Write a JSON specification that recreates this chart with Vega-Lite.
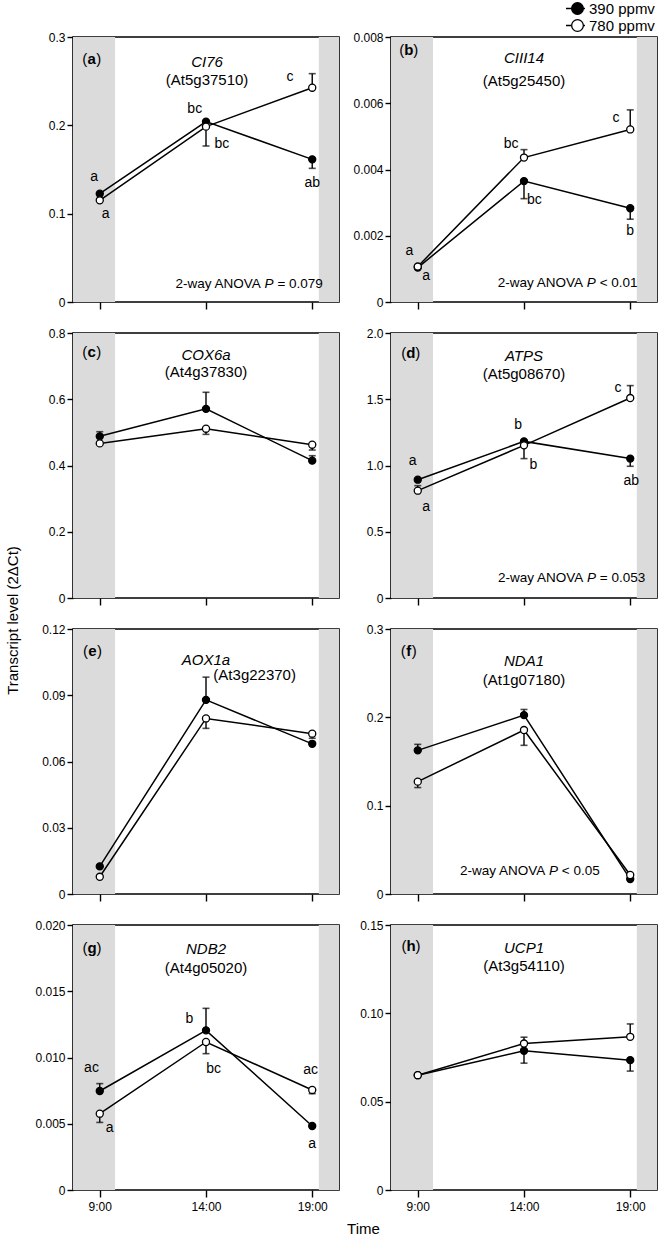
{
"$schema": "https://vega.github.io/schema/vega-lite/v6.json",
"padding": {"left": 4, "top": 0, "right": 0, "bottom": 2},
"background": "white",
"config": {
 "font": "Liberation Sans",
 "view": {"stroke": "black", "strokeWidth": 1.6},
 "axis": {"domain": false, "grid": false, "tickColor": "black", "tickWidth": 1.4, "tickSize": 6, "labelColor": "black", "labelFontSize": 12, "labelPadding": 2, "labelFont": "Liberation Sans", "titleFont": "Liberation Sans", "titleColor": "black", "titleFontWeight": "normal", "titleFontSize": 15},
 "axisX": {"tickSize": 7, "labelPadding": 4},
 "text": {"font": "Liberation Sans"}
},
"datasets": {
 "bands": [{"t": 7.74, "t2": 9.72, "v": 0}, {"t": 19.31, "t2": 20.26, "v": 0}],
 "pts": [
  {"p":"a","co2":"390 ppmv","t":9,"v":0.1226},
  {"p":"a","co2":"390 ppmv","t":14,"v":0.2042},
  {"p":"a","co2":"390 ppmv","t":19,"v":0.1615,"e":0.1513},
  {"p":"a","co2":"780 ppmv","t":9,"v":0.1151},
  {"p":"a","co2":"780 ppmv","t":14,"v":0.1985,"e":0.1766},
  {"p":"a","co2":"780 ppmv","t":19,"v":0.2426,"e":0.2585},
  {"p":"b","co2":"390 ppmv","t":9,"v":0.00104},
  {"p":"b","co2":"390 ppmv","t":14,"v":0.00365,"e":0.00312},
  {"p":"b","co2":"390 ppmv","t":19,"v":0.00283,"e":0.0025},
  {"p":"b","co2":"780 ppmv","t":9,"v":0.00107},
  {"p":"b","co2":"780 ppmv","t":14,"v":0.00436,"e":0.0046},
  {"p":"b","co2":"780 ppmv","t":19,"v":0.00521,"e":0.0058},
  {"p":"c","co2":"390 ppmv","t":9,"v":0.488,"e":0.502},
  {"p":"c","co2":"390 ppmv","t":14,"v":0.571,"e":0.621},
  {"p":"c","co2":"390 ppmv","t":19,"v":0.4146,"e":0.4296},
  {"p":"c","co2":"780 ppmv","t":9,"v":0.4667},
  {"p":"c","co2":"780 ppmv","t":14,"v":0.511,"e":0.494},
  {"p":"c","co2":"780 ppmv","t":19,"v":0.4627,"e":0.4467},
  {"p":"d","co2":"390 ppmv","t":9,"v":0.893},
  {"p":"d","co2":"390 ppmv","t":14,"v":1.182},
  {"p":"d","co2":"390 ppmv","t":19,"v":1.052,"e":0.994},
  {"p":"d","co2":"780 ppmv","t":9,"v":0.81,"e":0.848},
  {"p":"d","co2":"780 ppmv","t":14,"v":1.152,"e":1.052},
  {"p":"d","co2":"780 ppmv","t":19,"v":1.509,"e":1.603},
  {"p":"e","co2":"390 ppmv","t":9,"v":0.0125},
  {"p":"e","co2":"390 ppmv","t":14,"v":0.0879,"e":0.0982},
  {"p":"e","co2":"390 ppmv","t":19,"v":0.068},
  {"p":"e","co2":"780 ppmv","t":9,"v":0.0078},
  {"p":"e","co2":"780 ppmv","t":14,"v":0.0795,"e":0.075},
  {"p":"e","co2":"780 ppmv","t":19,"v":0.0726,"e":0.0705},
  {"p":"f","co2":"390 ppmv","t":9,"v":0.1626,"e":0.1694},
  {"p":"f","co2":"390 ppmv","t":14,"v":0.2025,"e":0.2089},
  {"p":"f","co2":"390 ppmv","t":19,"v":0.0169},
  {"p":"f","co2":"780 ppmv","t":9,"v":0.1272,"e":0.1205},
  {"p":"f","co2":"780 ppmv","t":14,"v":0.1856,"e":0.1683},
  {"p":"f","co2":"780 ppmv","t":19,"v":0.0215},
  {"p":"g","co2":"390 ppmv","t":9,"v":0.00747,"e":0.00803},
  {"p":"g","co2":"390 ppmv","t":14,"v":0.01205,"e":0.01371},
  {"p":"g","co2":"390 ppmv","t":19,"v":0.00483},
  {"p":"g","co2":"780 ppmv","t":9,"v":0.00576,"e":0.0051},
  {"p":"g","co2":"780 ppmv","t":14,"v":0.01117,"e":0.01029},
  {"p":"g","co2":"780 ppmv","t":19,"v":0.00755,"e":0.00727},
  {"p":"h","co2":"390 ppmv","t":9,"v":0.065},
  {"p":"h","co2":"390 ppmv","t":14,"v":0.0788,"e":0.0718},
  {"p":"h","co2":"390 ppmv","t":19,"v":0.0735,"e":0.0673},
  {"p":"h","co2":"780 ppmv","t":9,"v":0.065},
  {"p":"h","co2":"780 ppmv","t":14,"v":0.0829,"e":0.0865},
  {"p":"h","co2":"780 ppmv","t":19,"v":0.0867,"e":0.094}
 ],
 "ann": [
  {"p":"a","k":"lab","t":8.62,"v":0.2747,"s":"a"},
  {"p":"a","k":"gene","t":14.05,"v":0.2717,"s":"CI76"},
  {"p":"a","k":"locus","t":14.05,"v":0.251,"s":"(At5g37510)"},
  {"p":"a","k":"anova","t":16.97,"v":0.0208,"s":"= 0.079"},
  {"p":"a","k":"sig","t":8.73,"v":0.142,"s":"a"},
  {"p":"a","k":"sig","t":9.28,"v":0.1,"s":"a"},
  {"p":"a","k":"sig","t":13.47,"v":0.219,"s":"bc"},
  {"p":"a","k":"sig","t":14.75,"v":0.1785,"s":"bc"},
  {"p":"a","k":"sig","t":17.95,"v":0.2547,"s":"c"},
  {"p":"a","k":"sig","t":19.0,"v":0.135,"s":"ab"},
  {"p":"b","k":"lab","t":8.58,"v":0.0076,"s":"b"},
  {"p":"b","k":"gene","t":14.0,"v":0.00736,"s":"CIII14"},
  {"p":"b","k":"locus","t":14.0,"v":0.00667,"s":"(At5g25450)"},
  {"p":"b","k":"anova","t":17.17,"v":0.00056,"s":"< 0.01"},
  {"p":"b","k":"sig","t":8.61,"v":0.00154,"s":"a"},
  {"p":"b","k":"sig","t":9.39,"v":0.00078,"s":"a"},
  {"p":"b","k":"sig","t":13.39,"v":0.00476,"s":"bc"},
  {"p":"b","k":"sig","t":14.49,"v":0.00308,"s":"bc"},
  {"p":"b","k":"sig","t":18.33,"v":0.00556,"s":"c"},
  {"p":"b","k":"sig","t":19.0,"v":0.00214,"s":"b"},
  {"p":"c","k":"lab","t":8.62,"v":0.742,"s":"c"},
  {"p":"c","k":"gene","t":14.0,"v":0.735,"s":"COX6a"},
  {"p":"c","k":"locus","t":14.0,"v":0.682,"s":"(At4g37830)"},
  {"p":"d","k":"lab","t":8.67,"v":1.849,"s":"d"},
  {"p":"d","k":"gene","t":14.0,"v":1.829,"s":"ATPS"},
  {"p":"d","k":"locus","t":14.0,"v":1.693,"s":"(At5g08670)"},
  {"p":"d","k":"anova","t":17.18,"v":0.151,"s":"= 0.053"},
  {"p":"d","k":"sig","t":8.76,"v":1.036,"s":"a"},
  {"p":"d","k":"sig","t":9.39,"v":0.687,"s":"a"},
  {"p":"d","k":"sig","t":13.73,"v":1.308,"s":"b"},
  {"p":"d","k":"sig","t":14.44,"v":1.006,"s":"b"},
  {"p":"d","k":"sig","t":18.42,"v":1.585,"s":"c"},
  {"p":"d","k":"sig","t":19.05,"v":0.88,"s":"ab"},
  {"p":"e","k":"lab","t":8.66,"v":0.1099,"s":"e"},
  {"p":"e","k":"gene","t":14.0,"v":0.1058,"s":"AOX1a"},
  {"p":"e","k":"locus","t":16.29,"v":0.0990,"s":"(At3g22370)"},
  {"p":"f","k":"lab","t":8.58,"v":0.2748,"s":"f"},
  {"p":"f","k":"gene","t":14.0,"v":0.2635,"s":"NDA1"},
  {"p":"f","k":"locus","t":14.0,"v":0.2428,"s":"(At1g07180)"},
  {"p":"f","k":"anova","t":15.39,"v":0.0263,"s":"< 0.05"},
  {"p":"g","k":"lab","t":8.64,"v":0.01829,"s":"g"},
  {"p":"g","k":"gene","t":14.0,"v":0.01816,"s":"NDB2"},
  {"p":"g","k":"locus","t":14.0,"v":0.01678,"s":"(At4g05020)"},
  {"p":"g","k":"sig","t":8.61,"v":0.00923,"s":"ac"},
  {"p":"g","k":"sig","t":9.47,"v":0.0047,"s":"a"},
  {"p":"g","k":"sig","t":13.22,"v":0.01288,"s":"b"},
  {"p":"g","k":"sig","t":14.36,"v":0.00916,"s":"bc"},
  {"p":"g","k":"sig","t":18.92,"v":0.00903,"s":"ac"},
  {"p":"g","k":"sig","t":19.0,"v":0.00345,"s":"a"},
  {"p":"h","k":"lab","t":8.68,"v":0.1381,"s":"h"},
  {"p":"h","k":"gene","t":14.0,"v":0.1372,"s":"UCP1"},
  {"p":"h","k":"locus","t":14.0,"v":0.1268,"s":"(At3g54110)"}
 ]
},
"columns": 2,
"bounds": "flush",
"spacing": {"row": 31, "column": 52},
"resolve": {"scale": {"fill": "independent"}, "legend": {"fill": "independent"}},
"concat": [
 {
  "width": 266, "height": 265,
  "data": {"name": "pts"},
  "transform": [{"filter": "datum.p == 'a'"}],
  "encoding": {
   "x": {"field": "t", "type": "quantitative", "scale": {"domain": [7.74, 20.26], "nice": false, "zero": false}, "axis": {"values": [9, 14, 19], "labels": false, "title": null}},
   "y": {"field": "v", "type": "quantitative", "scale": {"domain": [0, 0.3], "nice": false}, "axis": {"values": [0, 0.1, 0.2, 0.3], "labelExpr": "datum.value == 0 ? '0' : format(datum.value, '.1f')", "title": null}}
  },
  "layer": [
   {"data": {"name": "bands"}, "mark": {"type": "rect", "fill": "#dbdbdb"}, "encoding": {"x2": {"field": "t2"}, "y2": {"value": 0}}},
   {"mark": {"type": "line", "color": "black", "strokeWidth": 1.5}, "encoding": {"detail": {"field": "co2"}}},
   {"transform": [{"filter": "isValid(datum.e)"}], "mark": {"type": "rule", "color": "black", "strokeWidth": 1.4}, "encoding": {"y2": {"field": "e"}}},
   {"transform": [{"filter": "isValid(datum.e)"}], "mark": {"type": "tick", "orient": "horizontal", "color": "black", "size": 7, "thickness": 1.6}, "encoding": {"y": {"field": "e", "type": "quantitative", "scale": {"domain": [0, 0.3], "nice": false}, "axis": {"values": [0, 0.1, 0.2, 0.3], "labelExpr": "datum.value == 0 ? '0' : format(datum.value, '.1f')", "title": null}}}},
   {"mark": {"type": "point", "shape": "circle", "filled": true, "stroke": "black", "strokeWidth": 1.3, "size": 50, "opacity": 1}, "encoding": {"fill": {"field": "co2", "type": "nominal", "scale": {"domain": ["390 ppmv", "780 ppmv"], "range": ["black", "white"]}, "legend": null}}},
   {"data": {"name": "ann"}, "transform": [{"filter": "datum.p == 'a' && datum.k == 'sig'"}], "mark": {"type": "text", "fontSize": 14, "color": "black"}, "encoding": {"text": {"field": "s"}}},
   {"data": {"name": "ann"}, "transform": [{"filter": "datum.p == 'a' && datum.k == 'gene'"}], "mark": {"type": "text", "fontSize": 15, "fontStyle": "italic", "color": "black"}, "encoding": {"text": {"field": "s"}}},
   {"data": {"name": "ann"}, "transform": [{"filter": "datum.p == 'a' && datum.k == 'locus'"}], "mark": {"type": "text", "fontSize": 15, "color": "black"}, "encoding": {"text": {"field": "s"}}},
   {"data": {"name": "ann"}, "transform": [{"filter": "datum.p == 'a' && datum.k == 'lab'"}], "mark": {"type": "text", "fontSize": 15, "fontWeight": "bold", "color": "black"}, "encoding": {"text": {"field": "s"}}},
   {"data": {"name": "ann"}, "transform": [{"filter": "datum.p == 'a' && datum.k == 'lab'"}], "mark": {"type": "text", "fontSize": 15, "align": "right", "dx": -4.5, "color": "black"}, "encoding": {"text": {"value": "("}}},
   {"data": {"name": "ann"}, "transform": [{"filter": "datum.p == 'a' && datum.k == 'lab'"}], "mark": {"type": "text", "fontSize": 15, "align": "left", "dx": 4.5, "color": "black"}, "encoding": {"text": {"value": ")"}}},
   {"data": {"name": "ann"}, "transform": [{"filter": "datum.p == 'a' && datum.k == 'anova'"}], "mark": {"type": "text", "fontSize": 13.5, "fontStyle": "italic", "color": "black"}, "encoding": {"text": {"value": "P"}}},
   {"data": {"name": "ann"}, "transform": [{"filter": "datum.p == 'a' && datum.k == 'anova'"}], "mark": {"type": "text", "fontSize": 13.5, "align": "right", "dx": -8.3, "color": "black"}, "encoding": {"text": {"value": "2-way ANOVA"}}},
   {"data": {"name": "ann"}, "transform": [{"filter": "datum.p == 'a' && datum.k == 'anova'"}], "mark": {"type": "text", "fontSize": 13.5, "align": "left", "dx": 8.3, "color": "black"}, "encoding": {"text": {"field": "s"}}}
  ]
 },
 {
  "width": 266, "height": 265,
  "data": {"name": "pts"},
  "transform": [{"filter": "datum.p == 'b'"}],
  "encoding": {
   "x": {"field": "t", "type": "quantitative", "scale": {"domain": [7.74, 20.26], "nice": false, "zero": false}, "axis": {"values": [9, 14, 19], "labels": false, "title": null}},
   "y": {"field": "v", "type": "quantitative", "scale": {"domain": [0, 0.008], "nice": false}, "axis": {"values": [0, 0.002, 0.004, 0.006, 0.008], "labelExpr": "datum.value == 0 ? '0' : format(datum.value, '.3f')", "title": null}}
  },
  "layer": [
   {"data": {"name": "bands"}, "mark": {"type": "rect", "fill": "#dbdbdb"}, "encoding": {"x2": {"field": "t2"}, "y2": {"value": 0}}},
   {"mark": {"type": "line", "color": "black", "strokeWidth": 1.5}, "encoding": {"detail": {"field": "co2"}}},
   {"transform": [{"filter": "isValid(datum.e)"}], "mark": {"type": "rule", "color": "black", "strokeWidth": 1.4}, "encoding": {"y2": {"field": "e"}}},
   {"transform": [{"filter": "isValid(datum.e)"}], "mark": {"type": "tick", "orient": "horizontal", "color": "black", "size": 7, "thickness": 1.6}, "encoding": {"y": {"field": "e", "type": "quantitative", "scale": {"domain": [0, 0.008], "nice": false}, "axis": {"values": [0, 0.002, 0.004, 0.006, 0.008], "labelExpr": "datum.value == 0 ? '0' : format(datum.value, '.3f')", "title": null}}}},
   {"mark": {"type": "point", "shape": "circle", "filled": true, "stroke": "black", "strokeWidth": 1.3, "size": 50, "opacity": 1}, "encoding": {"fill": {"field": "co2", "type": "nominal", "scale": {"domain": ["390 ppmv", "780 ppmv"], "range": ["black", "white"]}, "legend": {"orient": "none", "legendX": 179, "legendY": -36, "title": null, "symbolType": "M-1.77,0L-0.9,0M0.9,0L1.15,0M-0.9,0A0.9,0.9,0,1,1,0.9,0A0.9,0.9,0,1,1,-0.9,0Z", "symbolSize": 169, "labelFontSize": 15, "labelColor": "black", "labelOffset": 4, "rowPadding": 0, "padding": 0, "offset": 0, "symbolStrokeColor": "black", "symbolStrokeWidth": 1.3, "symbolOpacity": 1, "labelFont": "Liberation Sans", "encode": {"symbols": {"update": {"stroke": {"value": "black"}, "strokeWidth": {"value": 1.3}}}}}}}},
   {"data": {"name": "ann"}, "transform": [{"filter": "datum.p == 'b' && datum.k == 'sig'"}], "mark": {"type": "text", "fontSize": 14, "color": "black"}, "encoding": {"text": {"field": "s"}}},
   {"data": {"name": "ann"}, "transform": [{"filter": "datum.p == 'b' && datum.k == 'gene'"}], "mark": {"type": "text", "fontSize": 15, "fontStyle": "italic", "color": "black"}, "encoding": {"text": {"field": "s"}}},
   {"data": {"name": "ann"}, "transform": [{"filter": "datum.p == 'b' && datum.k == 'locus'"}], "mark": {"type": "text", "fontSize": 15, "color": "black"}, "encoding": {"text": {"field": "s"}}},
   {"data": {"name": "ann"}, "transform": [{"filter": "datum.p == 'b' && datum.k == 'lab'"}], "mark": {"type": "text", "fontSize": 15, "fontWeight": "bold", "color": "black"}, "encoding": {"text": {"field": "s"}}},
   {"data": {"name": "ann"}, "transform": [{"filter": "datum.p == 'b' && datum.k == 'lab'"}], "mark": {"type": "text", "fontSize": 15, "align": "right", "dx": -4.5, "color": "black"}, "encoding": {"text": {"value": "("}}},
   {"data": {"name": "ann"}, "transform": [{"filter": "datum.p == 'b' && datum.k == 'lab'"}], "mark": {"type": "text", "fontSize": 15, "align": "left", "dx": 4.5, "color": "black"}, "encoding": {"text": {"value": ")"}}},
   {"data": {"name": "ann"}, "transform": [{"filter": "datum.p == 'b' && datum.k == 'anova'"}], "mark": {"type": "text", "fontSize": 13.5, "fontStyle": "italic", "color": "black"}, "encoding": {"text": {"value": "P"}}},
   {"data": {"name": "ann"}, "transform": [{"filter": "datum.p == 'b' && datum.k == 'anova'"}], "mark": {"type": "text", "fontSize": 13.5, "align": "right", "dx": -8.3, "color": "black"}, "encoding": {"text": {"value": "2-way ANOVA"}}},
   {"data": {"name": "ann"}, "transform": [{"filter": "datum.p == 'b' && datum.k == 'anova'"}], "mark": {"type": "text", "fontSize": 13.5, "align": "left", "dx": 8.3, "color": "black"}, "encoding": {"text": {"field": "s"}}}
  ]
 },
 {
  "width": 266, "height": 265,
  "data": {"name": "pts"},
  "transform": [{"filter": "datum.p == 'c'"}],
  "encoding": {
   "x": {"field": "t", "type": "quantitative", "scale": {"domain": [7.74, 20.26], "nice": false, "zero": false}, "axis": {"values": [9, 14, 19], "labels": false, "title": null}},
   "y": {"field": "v", "type": "quantitative", "scale": {"domain": [0, 0.8], "nice": false}, "axis": {"values": [0, 0.2, 0.4, 0.6, 0.8], "labelExpr": "datum.value == 0 ? '0' : format(datum.value, '.1f')", "title": "Transcript level (2ΔCt)", "titleX": -61, "titleY": 287, "titleAngle": -90, "titleAlign": "center", "titleBaseline": "middle", "titleFontSize": 15}}
  },
  "layer": [
   {"data": {"name": "bands"}, "mark": {"type": "rect", "fill": "#dbdbdb"}, "encoding": {"x2": {"field": "t2"}, "y2": {"value": 0}}},
   {"mark": {"type": "line", "color": "black", "strokeWidth": 1.5}, "encoding": {"detail": {"field": "co2"}}},
   {"transform": [{"filter": "isValid(datum.e)"}], "mark": {"type": "rule", "color": "black", "strokeWidth": 1.4}, "encoding": {"y2": {"field": "e"}}},
   {"transform": [{"filter": "isValid(datum.e)"}], "mark": {"type": "tick", "orient": "horizontal", "color": "black", "size": 7, "thickness": 1.6}, "encoding": {"y": {"field": "e", "type": "quantitative", "scale": {"domain": [0, 0.8], "nice": false}, "axis": {"values": [0, 0.2, 0.4, 0.6, 0.8], "labelExpr": "datum.value == 0 ? '0' : format(datum.value, '.1f')", "title": "Transcript level (2ΔCt)", "titleX": -61, "titleY": 287, "titleAngle": -90, "titleAlign": "center", "titleBaseline": "middle", "titleFontSize": 15}}}},
   {"mark": {"type": "point", "shape": "circle", "filled": true, "stroke": "black", "strokeWidth": 1.3, "size": 50, "opacity": 1}, "encoding": {"fill": {"field": "co2", "type": "nominal", "scale": {"domain": ["390 ppmv", "780 ppmv"], "range": ["black", "white"]}, "legend": null}}},
   {"data": {"name": "ann"}, "transform": [{"filter": "datum.p == 'c' && datum.k == 'gene'"}], "mark": {"type": "text", "fontSize": 15, "fontStyle": "italic", "color": "black"}, "encoding": {"text": {"field": "s"}}},
   {"data": {"name": "ann"}, "transform": [{"filter": "datum.p == 'c' && datum.k == 'locus'"}], "mark": {"type": "text", "fontSize": 15, "color": "black"}, "encoding": {"text": {"field": "s"}}},
   {"data": {"name": "ann"}, "transform": [{"filter": "datum.p == 'c' && datum.k == 'lab'"}], "mark": {"type": "text", "fontSize": 15, "fontWeight": "bold", "color": "black"}, "encoding": {"text": {"field": "s"}}},
   {"data": {"name": "ann"}, "transform": [{"filter": "datum.p == 'c' && datum.k == 'lab'"}], "mark": {"type": "text", "fontSize": 15, "align": "right", "dx": -4.5, "color": "black"}, "encoding": {"text": {"value": "("}}},
   {"data": {"name": "ann"}, "transform": [{"filter": "datum.p == 'c' && datum.k == 'lab'"}], "mark": {"type": "text", "fontSize": 15, "align": "left", "dx": 4.5, "color": "black"}, "encoding": {"text": {"value": ")"}}}
  ]
 },
 {
  "width": 266, "height": 265,
  "data": {"name": "pts"},
  "transform": [{"filter": "datum.p == 'd'"}],
  "encoding": {
   "x": {"field": "t", "type": "quantitative", "scale": {"domain": [7.74, 20.26], "nice": false, "zero": false}, "axis": {"values": [9, 14, 19], "labels": false, "title": null}},
   "y": {"field": "v", "type": "quantitative", "scale": {"domain": [0, 2.0], "nice": false}, "axis": {"values": [0, 0.5, 1.0, 1.5, 2.0], "labelExpr": "datum.value == 0 ? '0' : format(datum.value, '.1f')", "title": null}}
  },
  "layer": [
   {"data": {"name": "bands"}, "mark": {"type": "rect", "fill": "#dbdbdb"}, "encoding": {"x2": {"field": "t2"}, "y2": {"value": 0}}},
   {"mark": {"type": "line", "color": "black", "strokeWidth": 1.5}, "encoding": {"detail": {"field": "co2"}}},
   {"transform": [{"filter": "isValid(datum.e)"}], "mark": {"type": "rule", "color": "black", "strokeWidth": 1.4}, "encoding": {"y2": {"field": "e"}}},
   {"transform": [{"filter": "isValid(datum.e)"}], "mark": {"type": "tick", "orient": "horizontal", "color": "black", "size": 7, "thickness": 1.6}, "encoding": {"y": {"field": "e", "type": "quantitative", "scale": {"domain": [0, 2.0], "nice": false}, "axis": {"values": [0, 0.5, 1.0, 1.5, 2.0], "labelExpr": "datum.value == 0 ? '0' : format(datum.value, '.1f')", "title": null}}}},
   {"mark": {"type": "point", "shape": "circle", "filled": true, "stroke": "black", "strokeWidth": 1.3, "size": 50, "opacity": 1}, "encoding": {"fill": {"field": "co2", "type": "nominal", "scale": {"domain": ["390 ppmv", "780 ppmv"], "range": ["black", "white"]}, "legend": null}}},
   {"data": {"name": "ann"}, "transform": [{"filter": "datum.p == 'd' && datum.k == 'sig'"}], "mark": {"type": "text", "fontSize": 14, "color": "black"}, "encoding": {"text": {"field": "s"}}},
   {"data": {"name": "ann"}, "transform": [{"filter": "datum.p == 'd' && datum.k == 'gene'"}], "mark": {"type": "text", "fontSize": 15, "fontStyle": "italic", "color": "black"}, "encoding": {"text": {"field": "s"}}},
   {"data": {"name": "ann"}, "transform": [{"filter": "datum.p == 'd' && datum.k == 'locus'"}], "mark": {"type": "text", "fontSize": 15, "color": "black"}, "encoding": {"text": {"field": "s"}}},
   {"data": {"name": "ann"}, "transform": [{"filter": "datum.p == 'd' && datum.k == 'lab'"}], "mark": {"type": "text", "fontSize": 15, "fontWeight": "bold", "color": "black"}, "encoding": {"text": {"field": "s"}}},
   {"data": {"name": "ann"}, "transform": [{"filter": "datum.p == 'd' && datum.k == 'lab'"}], "mark": {"type": "text", "fontSize": 15, "align": "right", "dx": -4.5, "color": "black"}, "encoding": {"text": {"value": "("}}},
   {"data": {"name": "ann"}, "transform": [{"filter": "datum.p == 'd' && datum.k == 'lab'"}], "mark": {"type": "text", "fontSize": 15, "align": "left", "dx": 4.5, "color": "black"}, "encoding": {"text": {"value": ")"}}},
   {"data": {"name": "ann"}, "transform": [{"filter": "datum.p == 'd' && datum.k == 'anova'"}], "mark": {"type": "text", "fontSize": 13.5, "fontStyle": "italic", "color": "black"}, "encoding": {"text": {"value": "P"}}},
   {"data": {"name": "ann"}, "transform": [{"filter": "datum.p == 'd' && datum.k == 'anova'"}], "mark": {"type": "text", "fontSize": 13.5, "align": "right", "dx": -8.3, "color": "black"}, "encoding": {"text": {"value": "2-way ANOVA"}}},
   {"data": {"name": "ann"}, "transform": [{"filter": "datum.p == 'd' && datum.k == 'anova'"}], "mark": {"type": "text", "fontSize": 13.5, "align": "left", "dx": 8.3, "color": "black"}, "encoding": {"text": {"field": "s"}}}
  ]
 },
 {
  "width": 266, "height": 265,
  "data": {"name": "pts"},
  "transform": [{"filter": "datum.p == 'e'"}],
  "encoding": {
   "x": {"field": "t", "type": "quantitative", "scale": {"domain": [7.74, 20.26], "nice": false, "zero": false}, "axis": {"values": [9, 14, 19], "labels": false, "title": null}},
   "y": {"field": "v", "type": "quantitative", "scale": {"domain": [0, 0.12], "nice": false}, "axis": {"values": [0, 0.03, 0.06, 0.09, 0.12], "labelExpr": "datum.value == 0 ? '0' : format(datum.value, '.2f')", "title": null}}
  },
  "layer": [
   {"data": {"name": "bands"}, "mark": {"type": "rect", "fill": "#dbdbdb"}, "encoding": {"x2": {"field": "t2"}, "y2": {"value": 0}}},
   {"mark": {"type": "line", "color": "black", "strokeWidth": 1.5}, "encoding": {"detail": {"field": "co2"}}},
   {"transform": [{"filter": "isValid(datum.e)"}], "mark": {"type": "rule", "color": "black", "strokeWidth": 1.4}, "encoding": {"y2": {"field": "e"}}},
   {"transform": [{"filter": "isValid(datum.e)"}], "mark": {"type": "tick", "orient": "horizontal", "color": "black", "size": 7, "thickness": 1.6}, "encoding": {"y": {"field": "e", "type": "quantitative", "scale": {"domain": [0, 0.12], "nice": false}, "axis": {"values": [0, 0.03, 0.06, 0.09, 0.12], "labelExpr": "datum.value == 0 ? '0' : format(datum.value, '.2f')", "title": null}}}},
   {"mark": {"type": "point", "shape": "circle", "filled": true, "stroke": "black", "strokeWidth": 1.3, "size": 50, "opacity": 1}, "encoding": {"fill": {"field": "co2", "type": "nominal", "scale": {"domain": ["390 ppmv", "780 ppmv"], "range": ["black", "white"]}, "legend": null}}},
   {"data": {"name": "ann"}, "transform": [{"filter": "datum.p == 'e' && datum.k == 'gene'"}], "mark": {"type": "text", "fontSize": 15, "fontStyle": "italic", "color": "black"}, "encoding": {"text": {"field": "s"}}},
   {"data": {"name": "ann"}, "transform": [{"filter": "datum.p == 'e' && datum.k == 'locus'"}], "mark": {"type": "text", "fontSize": 15, "color": "black"}, "encoding": {"text": {"field": "s"}}},
   {"data": {"name": "ann"}, "transform": [{"filter": "datum.p == 'e' && datum.k == 'lab'"}], "mark": {"type": "text", "fontSize": 15, "fontWeight": "bold", "color": "black"}, "encoding": {"text": {"field": "s"}}},
   {"data": {"name": "ann"}, "transform": [{"filter": "datum.p == 'e' && datum.k == 'lab'"}], "mark": {"type": "text", "fontSize": 15, "align": "right", "dx": -4.5, "color": "black"}, "encoding": {"text": {"value": "("}}},
   {"data": {"name": "ann"}, "transform": [{"filter": "datum.p == 'e' && datum.k == 'lab'"}], "mark": {"type": "text", "fontSize": 15, "align": "left", "dx": 4.5, "color": "black"}, "encoding": {"text": {"value": ")"}}}
  ]
 },
 {
  "width": 266, "height": 265,
  "data": {"name": "pts"},
  "transform": [{"filter": "datum.p == 'f'"}],
  "encoding": {
   "x": {"field": "t", "type": "quantitative", "scale": {"domain": [7.74, 20.26], "nice": false, "zero": false}, "axis": {"values": [9, 14, 19], "labels": false, "title": null}},
   "y": {"field": "v", "type": "quantitative", "scale": {"domain": [0, 0.3], "nice": false}, "axis": {"values": [0, 0.1, 0.2, 0.3], "labelExpr": "datum.value == 0 ? '0' : format(datum.value, '.1f')", "title": null}}
  },
  "layer": [
   {"data": {"name": "bands"}, "mark": {"type": "rect", "fill": "#dbdbdb"}, "encoding": {"x2": {"field": "t2"}, "y2": {"value": 0}}},
   {"mark": {"type": "line", "color": "black", "strokeWidth": 1.5}, "encoding": {"detail": {"field": "co2"}}},
   {"transform": [{"filter": "isValid(datum.e)"}], "mark": {"type": "rule", "color": "black", "strokeWidth": 1.4}, "encoding": {"y2": {"field": "e"}}},
   {"transform": [{"filter": "isValid(datum.e)"}], "mark": {"type": "tick", "orient": "horizontal", "color": "black", "size": 7, "thickness": 1.6}, "encoding": {"y": {"field": "e", "type": "quantitative", "scale": {"domain": [0, 0.3], "nice": false}, "axis": {"values": [0, 0.1, 0.2, 0.3], "labelExpr": "datum.value == 0 ? '0' : format(datum.value, '.1f')", "title": null}}}},
   {"mark": {"type": "point", "shape": "circle", "filled": true, "stroke": "black", "strokeWidth": 1.3, "size": 50, "opacity": 1}, "encoding": {"fill": {"field": "co2", "type": "nominal", "scale": {"domain": ["390 ppmv", "780 ppmv"], "range": ["black", "white"]}, "legend": null}}},
   {"data": {"name": "ann"}, "transform": [{"filter": "datum.p == 'f' && datum.k == 'gene'"}], "mark": {"type": "text", "fontSize": 15, "fontStyle": "italic", "color": "black"}, "encoding": {"text": {"field": "s"}}},
   {"data": {"name": "ann"}, "transform": [{"filter": "datum.p == 'f' && datum.k == 'locus'"}], "mark": {"type": "text", "fontSize": 15, "color": "black"}, "encoding": {"text": {"field": "s"}}},
   {"data": {"name": "ann"}, "transform": [{"filter": "datum.p == 'f' && datum.k == 'lab'"}], "mark": {"type": "text", "fontSize": 15, "fontWeight": "bold", "color": "black"}, "encoding": {"text": {"field": "s"}}},
   {"data": {"name": "ann"}, "transform": [{"filter": "datum.p == 'f' && datum.k == 'lab'"}], "mark": {"type": "text", "fontSize": 15, "align": "right", "dx": -3, "color": "black"}, "encoding": {"text": {"value": "("}}},
   {"data": {"name": "ann"}, "transform": [{"filter": "datum.p == 'f' && datum.k == 'lab'"}], "mark": {"type": "text", "fontSize": 15, "align": "left", "dx": 3, "color": "black"}, "encoding": {"text": {"value": ")"}}},
   {"data": {"name": "ann"}, "transform": [{"filter": "datum.p == 'f' && datum.k == 'anova'"}], "mark": {"type": "text", "fontSize": 13.5, "fontStyle": "italic", "color": "black"}, "encoding": {"text": {"value": "P"}}},
   {"data": {"name": "ann"}, "transform": [{"filter": "datum.p == 'f' && datum.k == 'anova'"}], "mark": {"type": "text", "fontSize": 13.5, "align": "right", "dx": -8.3, "color": "black"}, "encoding": {"text": {"value": "2-way ANOVA"}}},
   {"data": {"name": "ann"}, "transform": [{"filter": "datum.p == 'f' && datum.k == 'anova'"}], "mark": {"type": "text", "fontSize": 13.5, "align": "left", "dx": 8.3, "color": "black"}, "encoding": {"text": {"field": "s"}}}
  ]
 },
 {
  "width": 266, "height": 265,
  "data": {"name": "pts"},
  "transform": [{"filter": "datum.p == 'g'"}],
  "encoding": {
   "x": {"field": "t", "type": "quantitative", "scale": {"domain": [7.74, 20.26], "nice": false, "zero": false}, "axis": {"values": [9, 14, 19], "labelExpr": "datum.value == 9 ? '9:00' : datum.value == 14 ? '14:00' : '19:00'", "title": null}},
   "y": {"field": "v", "type": "quantitative", "scale": {"domain": [0, 0.02], "nice": false}, "axis": {"values": [0, 0.005, 0.01, 0.015, 0.02], "labelExpr": "datum.value == 0 ? '0' : format(datum.value, '.3f')", "title": null}}
  },
  "layer": [
   {"data": {"name": "bands"}, "mark": {"type": "rect", "fill": "#dbdbdb"}, "encoding": {"x2": {"field": "t2"}, "y2": {"value": 0}}},
   {"mark": {"type": "line", "color": "black", "strokeWidth": 1.5}, "encoding": {"detail": {"field": "co2"}}},
   {"transform": [{"filter": "isValid(datum.e)"}], "mark": {"type": "rule", "color": "black", "strokeWidth": 1.4}, "encoding": {"y2": {"field": "e"}}},
   {"transform": [{"filter": "isValid(datum.e)"}], "mark": {"type": "tick", "orient": "horizontal", "color": "black", "size": 7, "thickness": 1.6}, "encoding": {"y": {"field": "e", "type": "quantitative", "scale": {"domain": [0, 0.02], "nice": false}, "axis": {"values": [0, 0.005, 0.01, 0.015, 0.02], "labelExpr": "datum.value == 0 ? '0' : format(datum.value, '.3f')", "title": null}}}},
   {"mark": {"type": "point", "shape": "circle", "filled": true, "stroke": "black", "strokeWidth": 1.3, "size": 50, "opacity": 1}, "encoding": {"fill": {"field": "co2", "type": "nominal", "scale": {"domain": ["390 ppmv", "780 ppmv"], "range": ["black", "white"]}, "legend": null}}},
   {"data": {"name": "ann"}, "transform": [{"filter": "datum.p == 'g' && datum.k == 'sig'"}], "mark": {"type": "text", "fontSize": 14, "color": "black"}, "encoding": {"text": {"field": "s"}}},
   {"data": {"name": "ann"}, "transform": [{"filter": "datum.p == 'g' && datum.k == 'gene'"}], "mark": {"type": "text", "fontSize": 15, "fontStyle": "italic", "color": "black"}, "encoding": {"text": {"field": "s"}}},
   {"data": {"name": "ann"}, "transform": [{"filter": "datum.p == 'g' && datum.k == 'locus'"}], "mark": {"type": "text", "fontSize": 15, "color": "black"}, "encoding": {"text": {"field": "s"}}},
   {"data": {"name": "ann"}, "transform": [{"filter": "datum.p == 'g' && datum.k == 'lab'"}], "mark": {"type": "text", "fontSize": 15, "fontWeight": "bold", "color": "black"}, "encoding": {"text": {"field": "s"}}},
   {"data": {"name": "ann"}, "transform": [{"filter": "datum.p == 'g' && datum.k == 'lab'"}], "mark": {"type": "text", "fontSize": 15, "align": "right", "dx": -4.5, "color": "black"}, "encoding": {"text": {"value": "("}}},
   {"data": {"name": "ann"}, "transform": [{"filter": "datum.p == 'g' && datum.k == 'lab'"}], "mark": {"type": "text", "fontSize": 15, "align": "left", "dx": 4.5, "color": "black"}, "encoding": {"text": {"value": ")"}}}
  ]
 },
 {
  "width": 266, "height": 265,
  "data": {"name": "pts"},
  "transform": [{"filter": "datum.p == 'h'"}],
  "encoding": {
   "x": {"field": "t", "type": "quantitative", "scale": {"domain": [7.74, 20.26], "nice": false, "zero": false}, "axis": {"values": [9, 14, 19], "labelExpr": "datum.value == 9 ? '9:00' : datum.value == 14 ? '14:00' : '19:00'", "title": "Time", "titleX": -28, "titleY": 43, "titleAlign": "center", "titleBaseline": "alphabetic", "titleFontSize": 15}},
   "y": {"field": "v", "type": "quantitative", "scale": {"domain": [0, 0.15], "nice": false}, "axis": {"values": [0, 0.05, 0.1, 0.15], "labelExpr": "datum.value == 0 ? '0' : format(datum.value, '.2f')", "title": null}}
  },
  "layer": [
   {"data": {"name": "bands"}, "mark": {"type": "rect", "fill": "#dbdbdb"}, "encoding": {"x2": {"field": "t2"}, "y2": {"value": 0}}},
   {"mark": {"type": "line", "color": "black", "strokeWidth": 1.5}, "encoding": {"detail": {"field": "co2"}}},
   {"transform": [{"filter": "isValid(datum.e)"}], "mark": {"type": "rule", "color": "black", "strokeWidth": 1.4}, "encoding": {"y2": {"field": "e"}}},
   {"transform": [{"filter": "isValid(datum.e)"}], "mark": {"type": "tick", "orient": "horizontal", "color": "black", "size": 7, "thickness": 1.6}, "encoding": {"y": {"field": "e", "type": "quantitative", "scale": {"domain": [0, 0.15], "nice": false}, "axis": {"values": [0, 0.05, 0.1, 0.15], "labelExpr": "datum.value == 0 ? '0' : format(datum.value, '.2f')", "title": null}}}},
   {"mark": {"type": "point", "shape": "circle", "filled": true, "stroke": "black", "strokeWidth": 1.3, "size": 50, "opacity": 1}, "encoding": {"fill": {"field": "co2", "type": "nominal", "scale": {"domain": ["390 ppmv", "780 ppmv"], "range": ["black", "white"]}, "legend": null}}},
   {"data": {"name": "ann"}, "transform": [{"filter": "datum.p == 'h' && datum.k == 'gene'"}], "mark": {"type": "text", "fontSize": 15, "fontStyle": "italic", "color": "black"}, "encoding": {"text": {"field": "s"}}},
   {"data": {"name": "ann"}, "transform": [{"filter": "datum.p == 'h' && datum.k == 'locus'"}], "mark": {"type": "text", "fontSize": 15, "color": "black"}, "encoding": {"text": {"field": "s"}}},
   {"data": {"name": "ann"}, "transform": [{"filter": "datum.p == 'h' && datum.k == 'lab'"}], "mark": {"type": "text", "fontSize": 15, "fontWeight": "bold", "color": "black"}, "encoding": {"text": {"field": "s"}}},
   {"data": {"name": "ann"}, "transform": [{"filter": "datum.p == 'h' && datum.k == 'lab'"}], "mark": {"type": "text", "fontSize": 15, "align": "right", "dx": -4.5, "color": "black"}, "encoding": {"text": {"value": "("}}},
   {"data": {"name": "ann"}, "transform": [{"filter": "datum.p == 'h' && datum.k == 'lab'"}], "mark": {"type": "text", "fontSize": 15, "align": "left", "dx": 4.5, "color": "black"}, "encoding": {"text": {"value": ")"}}}
  ]
 }
]
}
